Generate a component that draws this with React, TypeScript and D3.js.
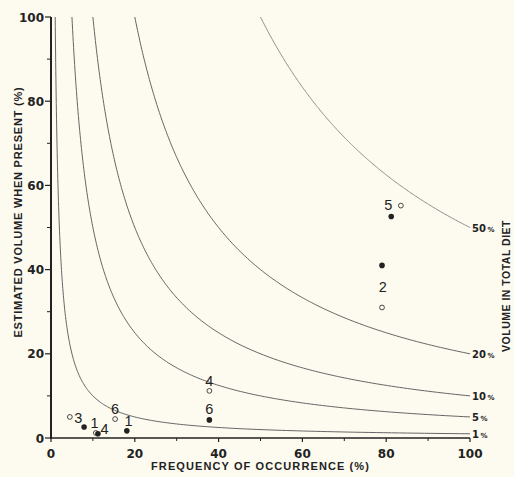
import React from "react";
import { scaleLinear, line, range } from "d3";

// Frequency of occurrence (%) and estimated volume when present (%) per item
const openLabels = ["3", "1", "6", "4", "2", "5"];
const openFreq = [4.5, 10.7, 15.3, 37.8, 79, 83.5];
const openVolume = [5.0, 1.2, 4.5, 11.2, 31, 55.2];

const filledLabels = ["3", "4", "1", "6", "2", "5"];
const filledFreq = [7.9, 11.2, 18.1, 37.8, 79, 81.2];
const filledVolume = [2.6, 1.0, 1.7, 4.3, 41, 52.6];

// Item number annotations (data coordinates)
const labelText = ["3", "1", "4", "6", "1", "6", "4", "5", "2"];
const labelFreq = [6.5, 10.4, 12.8, 15.3, 18.5, 37.8, 37.8, 80.5, 79.2];
const labelVolume = [4.8, 3.5, 2.1, 6.9, 4.0, 6.9, 13.5, 55.4, 35.8];

// Isopleths of volume in total diet (%)
const isoLevels = [1, 5, 10, 20, 50];

const xTicks = [0, 20, 40, 60, 80, 100];
const yTicks = [0, 20, 40, 60, 80, 100];
const minorTicks = [10, 30, 50, 70, 90];

const W = 514;
const H = 477;
const margin = { top: 17, right: 44, bottom: 39, left: 51 };

const FONT = "'Liberation Sans', Arial, sans-serif";
const TICK_FONT = "'DejaVu Sans', sans-serif";
const BG = "#fdfbf0";

const App: React.FC = () => {
  const x = scaleLinear().domain([0, 100]).range([margin.left, W - margin.right]);
  const y = scaleLinear().domain([0, 100]).range([H - margin.bottom, margin.top]);

  const iso = line<[number, number]>()
    .x((d) => x(d[0]))
    .y((d) => y(d[1]));

  const isoPath = (c: number) => {
    const pts: [number, number][] = range(0, 201).map((i) => {
      const f = c * Math.pow(100 / c, i / 200);
      return [f, (100 * c) / f];
    });
    return iso(pts) ?? "";
  };

  return (
    <div style={{ position: "absolute", left: 0, top: 0 }}>
      <svg width={W} height={H} style={{ display: "block", background: BG }}>
        {/* isopleths */}
        {isoLevels.map((c) => (
          <path
            key={`iso-${c}`}
            d={isoPath(c)}
            fill="none"
            stroke={c === 50 ? "#808080" : "#555"}
            strokeWidth={0.9}
          />
        ))}
        {isoLevels.map((c) => (
          <text
            key={`isol-${c}`}
            x={x(100) + 2}
            y={y(c) + 4}
            fontFamily={TICK_FONT}
            fontWeight="bold"
            fontSize={10}
            fill="#222"
          >
            {c}
            <tspan fontSize={7} dx={1.5}>%</tspan>
          </text>
        ))}

        {/* axes */}
        <line x1={x(0)} x2={x(100)} y1={y(0)} y2={y(0)} stroke="#222" strokeWidth={1.6} />
        <line x1={x(0)} x2={x(0)} y1={y(0) + 1} y2={y(100)} stroke="#222" strokeWidth={2} />
        {xTicks.map((t) => (
          <g key={`xt-${t}`}>
            <line x1={x(t)} x2={x(t)} y1={y(0)} y2={y(0) + 4} stroke="#222" strokeWidth={1.2} />
            <text
              x={x(t)}
              y={y(0) + 20}
              textAnchor="middle"
              fontFamily={TICK_FONT}
              fontWeight="bold"
              fontSize={12}
              fill="#222"
            >
              {t}
            </text>
          </g>
        ))}
        {minorTicks.map((t) => (
          <line key={`xm-${t}`} x1={x(t)} x2={x(t)} y1={y(0)} y2={y(0) + 3} stroke="#222" strokeWidth={1} />
        ))}
        {yTicks.map((t) => (
          <g key={`yt-${t}`}>
            <line x1={x(0) - 6} x2={x(0)} y1={y(t)} y2={y(t)} stroke="#222" strokeWidth={1.2} />
            <text
              x={x(0) - 7}
              y={y(t) + 4.5}
              textAnchor="end"
              fontFamily={TICK_FONT}
              fontWeight="bold"
              fontSize={12}
              fill="#222"
            >
              {t}
            </text>
          </g>
        ))}
        {minorTicks.map((t) => (
          <line key={`ym-${t}`} x1={x(0) - 4} x2={x(0)} y1={y(t)} y2={y(t)} stroke="#222" strokeWidth={1} />
        ))}

        {/* points */}
        {openFreq.map((f, i) => (
          <circle
            key={`o-${openLabels[i]}`}
            cx={x(f)}
            cy={y(openVolume[i])}
            r={2.4}
            fill={BG}
            stroke="#333"
            strokeWidth={0.9}
          />
        ))}
        {filledFreq.map((f, i) => (
          <circle key={`f-${filledLabels[i]}`} cx={x(f)} cy={y(filledVolume[i])} r={2.8} fill="#222" />
        ))}
        {labelText.map((t, i) => (
          <text
            key={`lab-${i}`}
            x={x(labelFreq[i])}
            y={y(labelVolume[i]) + 5}
            textAnchor="middle"
            fontFamily={FONT}
            fontSize={14.5}
            fill="#222"
          >
            {t}
          </text>
        ))}

        {/* titles */}
        <text
          x={(x(0) + x(100)) / 2}
          y={470}
          textAnchor="middle"
          fontFamily={FONT}
          fontWeight="bold"
          fontSize={11}
          letterSpacing={1.1}
          fill="#222"
        >
          FREQUENCY OF OCCURRENCE (%)
        </text>
        <text
          transform={`translate(22, 212) rotate(-90)`}
          textAnchor="middle"
          fontFamily={FONT}
          fontWeight="bold"
          fontSize={11}
          letterSpacing={0.8}
          fill="#222"
        >
          ESTIMATED VOLUME WHEN PRESENT (%)
        </text>
        <text
          transform={`translate(510, 286) rotate(-90)`}
          textAnchor="middle"
          fontFamily={FONT}
          fontWeight="bold"
          fontSize={10.5}
          letterSpacing={0.5}
          fill="#222"
        >
          VOLUME IN TOTAL DIET
        </text>
      </svg>
    </div>
  );
};

export default App;
